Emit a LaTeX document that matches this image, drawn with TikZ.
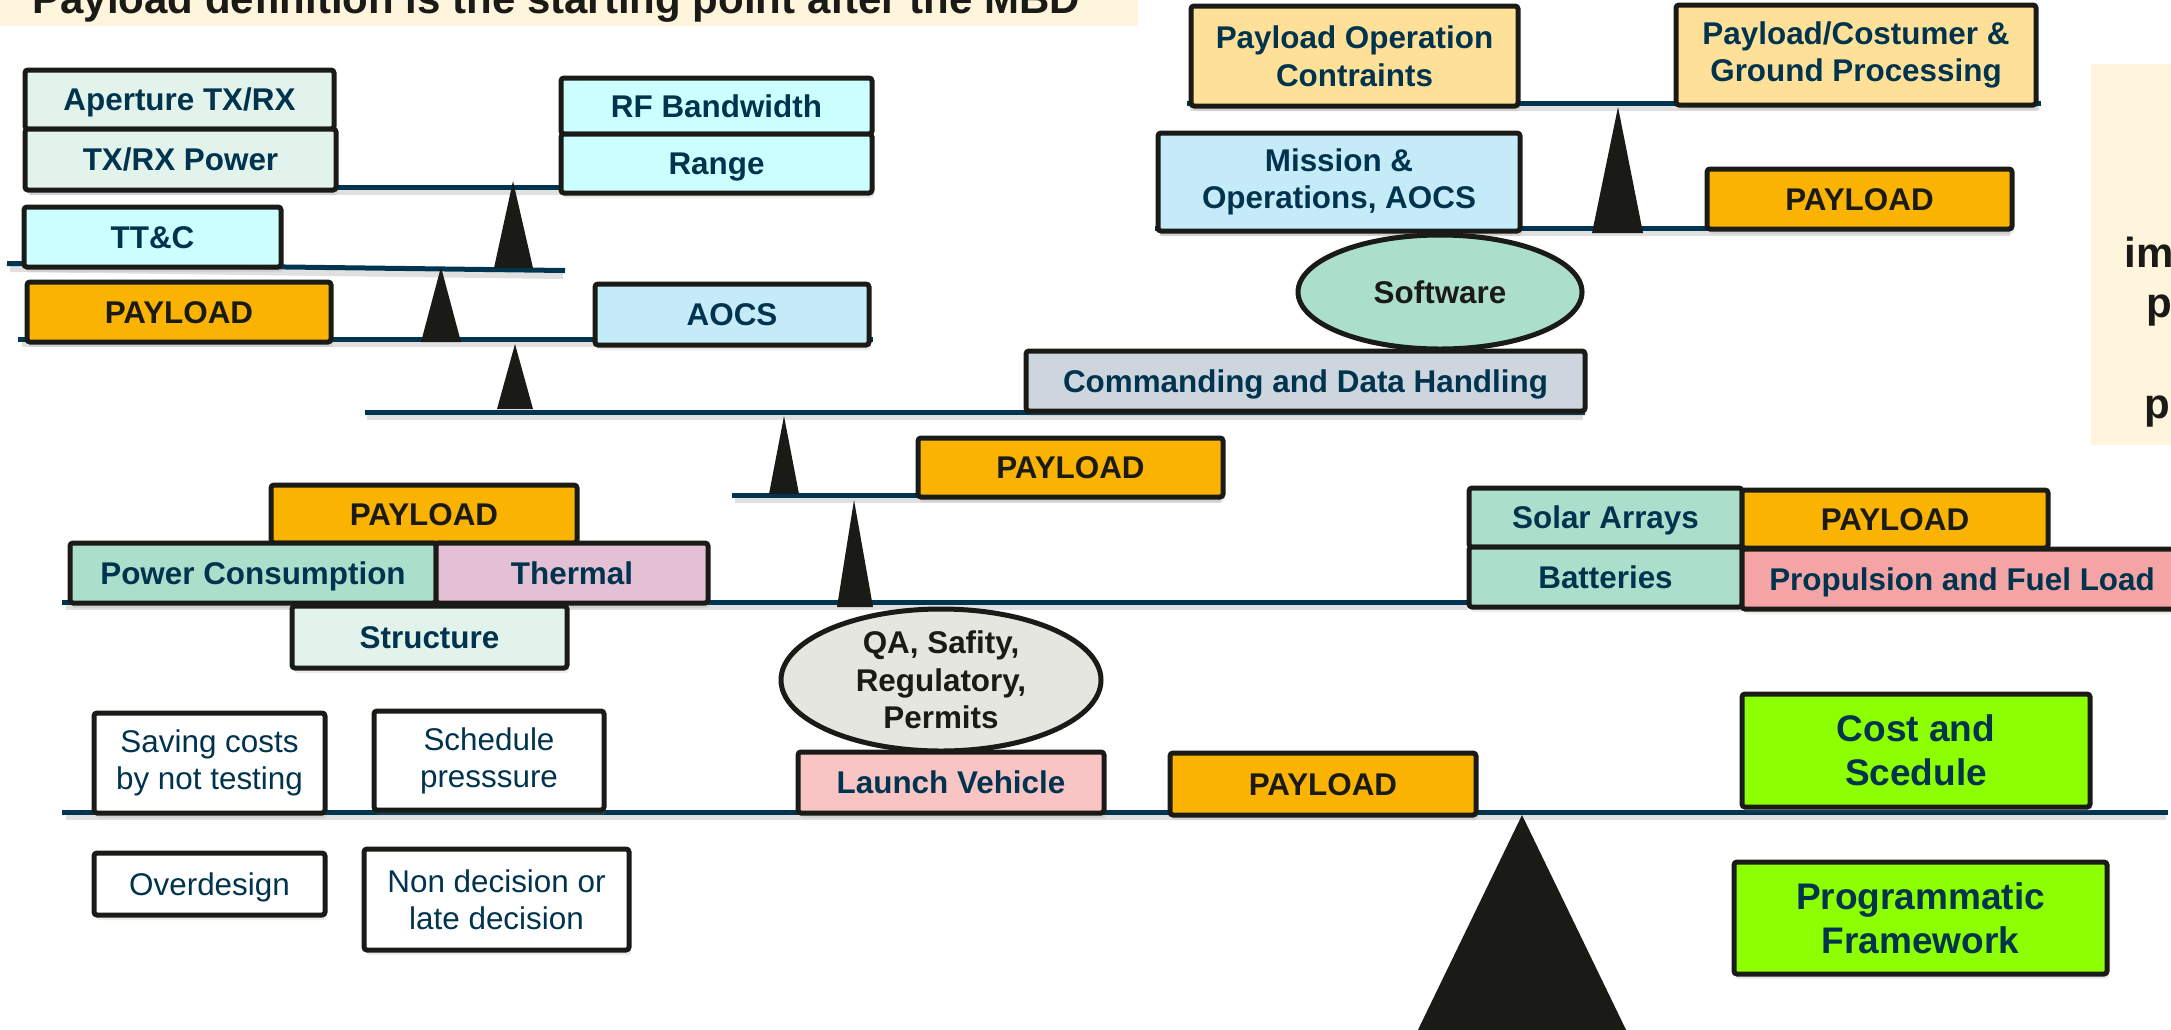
\documentclass[tikz,border=0pt]{standalone}
\usepackage{fontspec}
\setmainfont{Liberation Sans}
\usetikzlibrary{shapes.geometric,shadows}
\definecolor{navy}{HTML}{00334E}
\definecolor{ink}{HTML}{1A1A16}
\definecolor{beamc}{HTML}{003550}
\definecolor{cream}{HTML}{FFF4DC}
\definecolor{mintlt}{HTML}{E2F3EC}
\definecolor{cyanlt}{HTML}{CCFFFF}
\definecolor{bluelt}{HTML}{C5EAF8}
\definecolor{payorange}{HTML}{F9B300}
\definecolor{graybl}{HTML}{CDD5DE}
\definecolor{mintgr}{HTML}{ABDFCC}
\definecolor{thermc}{HTML}{E3C0D3}
\definecolor{qagray}{HTML}{E6E6E0}
\definecolor{launchc}{HTML}{F8C4C4}
\definecolor{propc}{HTML}{F4A4A5}
\definecolor{peach}{HTML}{FFE099}
\definecolor{greenc}{HTML}{8CFF00}
\newcommand\boxfont{\fontsize{15.7}{18.8}\selectfont\bfseries}
\newcommand\regfont{\fontsize{15.7}{18.6}\selectfont}
\newcommand\bigboxfont{\fontsize{18.5}{22}\selectfont\bfseries}
\newcommand\sidefont{\fontsize{21}{25}\selectfont\bfseries}
\begin{document}
\begin{tikzpicture}[x=0.5pt,y=-0.5pt,
  box/.style={draw=ink, line width=2.5pt, rounded corners=1.5pt, inner sep=0pt,
    align=center, text=navy, font=\boxfont,
    drop shadow={shadow xshift=1pt, shadow yshift=-2.5pt, opacity=0.15}},
  sz/.style 2 args={minimum width=#1*0.5pt, minimum height=#2*0.5pt},
  one/.style={text height=11.3pt, text depth=0pt},
  payloadbox/.style={box, one, fill=payorange, text=ink},
  whitebox/.style={box, fill=white, font=\regfont},
  greenbox/.style={box, fill=greenc, font=\bigboxfont},
  oval/.style={ellipse, draw=ink, line width=2.5pt, inner sep=0pt, align=center,
    text=ink, font=\boxfont},
  beam/.style={draw=beamc, line width=2.5pt},
  beamshadow/.style={draw=black, opacity=0.12, line width=3pt},
  fulcrum/.style={fill=ink},
  sidetext/.style={anchor=base west, inner sep=0pt, text=ink, font=\sidefont}
]
\clip (0,0) rectangle (2171,1029);
\fill[white] (0,0) rectangle (2171,1029);

% title banner
\fill[cream] (0,0) rectangle (1138,26);
\node[anchor=base west, inner sep=0pt, text=ink, font=\fontsize{21}{25}\selectfont\bfseries] (title) at (32,13) {Payload definition is the starting point after the MBD};

% right cream panel
\fill[cream] (2091,64) rectangle (2171,445);
\node[sidetext] (rt1) at (2124,267) {im};
\node[sidetext] (rt2) at (2146,317) {p};
\node[sidetext] (rt3) at (2144,418) {p};

% beam shadows
\foreach \xa/\ya/\xb/\yb in {30/192/860/192, 10/269/563/276, 22/344/871/344, 367/417/1583/417,
  1160/233/2010/233, 1190/108/2039/108, 735/500/1221/500, 66/607/1467/607, 66/817/2166/817}
  \draw[beamshadow] (\xa,\ya) -- (\xb,\yb);

% beams
\draw[beam] (30,187) -- (865,187);
\draw[beam] (7,263.5) -- (565,270.5);
\draw[beam] (18,339) -- (873,339);
\draw[beam] (365,412) -- (1585,412);
\draw[beam] (1155,228) -- (2012,228);
\draw[beam] (1187,103) -- (2041,103);
\draw[beam] (732,495) -- (1223,495);
\draw[beam] (62,602) -- (1469,602);
\draw[beam] (62,812) -- (2168,812);

% fulcrums
\fill[fulcrum] (513,181) -- (533,268) -- (494,268) -- cycle;
\fill[fulcrum] (441,267) -- (461,342) -- (421,342) -- cycle;
\fill[fulcrum] (515,344) -- (533,409) -- (497,409) -- cycle;
\fill[fulcrum] (1618,107) -- (1643,233) -- (1592,233) -- cycle;
\fill[fulcrum] (784,416) -- (799,494) -- (769,494) -- cycle;
\fill[fulcrum] (854,500) -- (873,607) -- (837,607) -- cycle;
\fill[fulcrum] (1522,815) -- (1660,1100) -- (1384,1100) -- cycle;

% top-left cluster
\node[box, one, fill=mintlt, sz={309}{59}] (aperture) at (179.5,99.5) {Aperture TX/RX};
\node[box, one, fill=mintlt, sz={311}{61}] (txrx) at (180.5,159.5) {TX/RX Power};
\node[box, one, fill=cyanlt, sz={311}{56}] (rfbw) at (716.5,106) {RF Bandwidth};
\node[box, one, fill=cyanlt, sz={311}{59}] (range) at (716.5,163.5) {Range};
\node[box, one, fill=cyanlt, sz={257}{60}] (ttc) at (152.5,237) {TT\&C};
\node[payloadbox, sz={304}{60}] (payload1) at (179,312) {PAYLOAD};
\node[box, one, fill=bluelt, sz={274}{61}] (aocs) at (732,314.5) {AOCS};
\node[box, one, fill=graybl, sz={559}{60}] (cdh) at (1305.5,381) {Commanding and Data Handling};

% top-right cluster
\node[box, fill=peach, sz={327}{100}] (poc) at (1354.5,56) {Payload Operation\\Contraints};
\node[box, fill=peach, sz={360}{100}] (pcg) at (1856,55) {Payload/Costumer \&\\Ground Processing};
\node[box, fill=bluelt, sz={362}{98}] (mission) at (1339,182) {Mission \&\\Operations, AOCS};
\node[payloadbox, sz={305}{60}] (payload3) at (1859.5,199) {PAYLOAD};
\node[oval, one, fill=mintgr, minimum width=142pt, minimum height=57pt] (software) at (1440,292) {Software};

% middle
\node[payloadbox, sz={305}{59}] (payload2) at (1070.5,467.5) {PAYLOAD};
\node[payloadbox, sz={306}{58}] (payload4) at (424,514) {PAYLOAD};
\node[box, one, fill=mintgr, sz={366}{60}] (power) at (253,573) {Power Consumption};
\node[box, one, fill=thermc, sz={272}{60}] (thermal) at (572,573) {Thermal};
\node[box, one, fill=mintlt, sz={275}{62}] (structure) at (429.5,637) {Structure};
\node[box, one, fill=mintgr, sz={273}{59}] (solar) at (1605.5,517.5) {Solar Arrays};
\node[box, one, fill=mintgr, sz={273}{60}] (batteries) at (1605.5,577) {Batteries};
\node[payloadbox, sz={306}{58}] (payload5) at (1895,519) {PAYLOAD};
\node[box, one, fill=propc, sz={440}{60}] (propulsion) at (1962,579) {Propulsion and Fuel Load};

% bottom
\node[oval, fill=qagray, minimum width=160pt, minimum height=71pt] (qa) at (941,680) {QA, Safity,\\Regulatory,\\Permits};
\node[box, one, fill=launchc, sz={306}{61}] (launch) at (951,782.5) {Launch Vehicle};
\node[whitebox, sz={231}{100}] (saving) at (209.5,763) {Saving costs\\by not testing};
\node[whitebox, sz={230}{99}] (schedule) at (489,760.5) {Schedule\\presssure};
\node[whitebox, one, sz={231}{62}] (overdesign) at (209.5,884) {Overdesign};
\node[whitebox, sz={265}{101}] (nondecision) at (496.5,899.5) {Non decision or\\late decision};
\node[payloadbox, sz={306}{62}] (payload6) at (1323,784) {PAYLOAD};
\node[greenbox, sz={348}{113}] (cost) at (1916,750.5) {Cost and\\Scedule};
\node[greenbox, sz={373}{112}] (prog) at (1920.5,918) {Programmatic\\Framework};
\end{tikzpicture}
\end{document}
